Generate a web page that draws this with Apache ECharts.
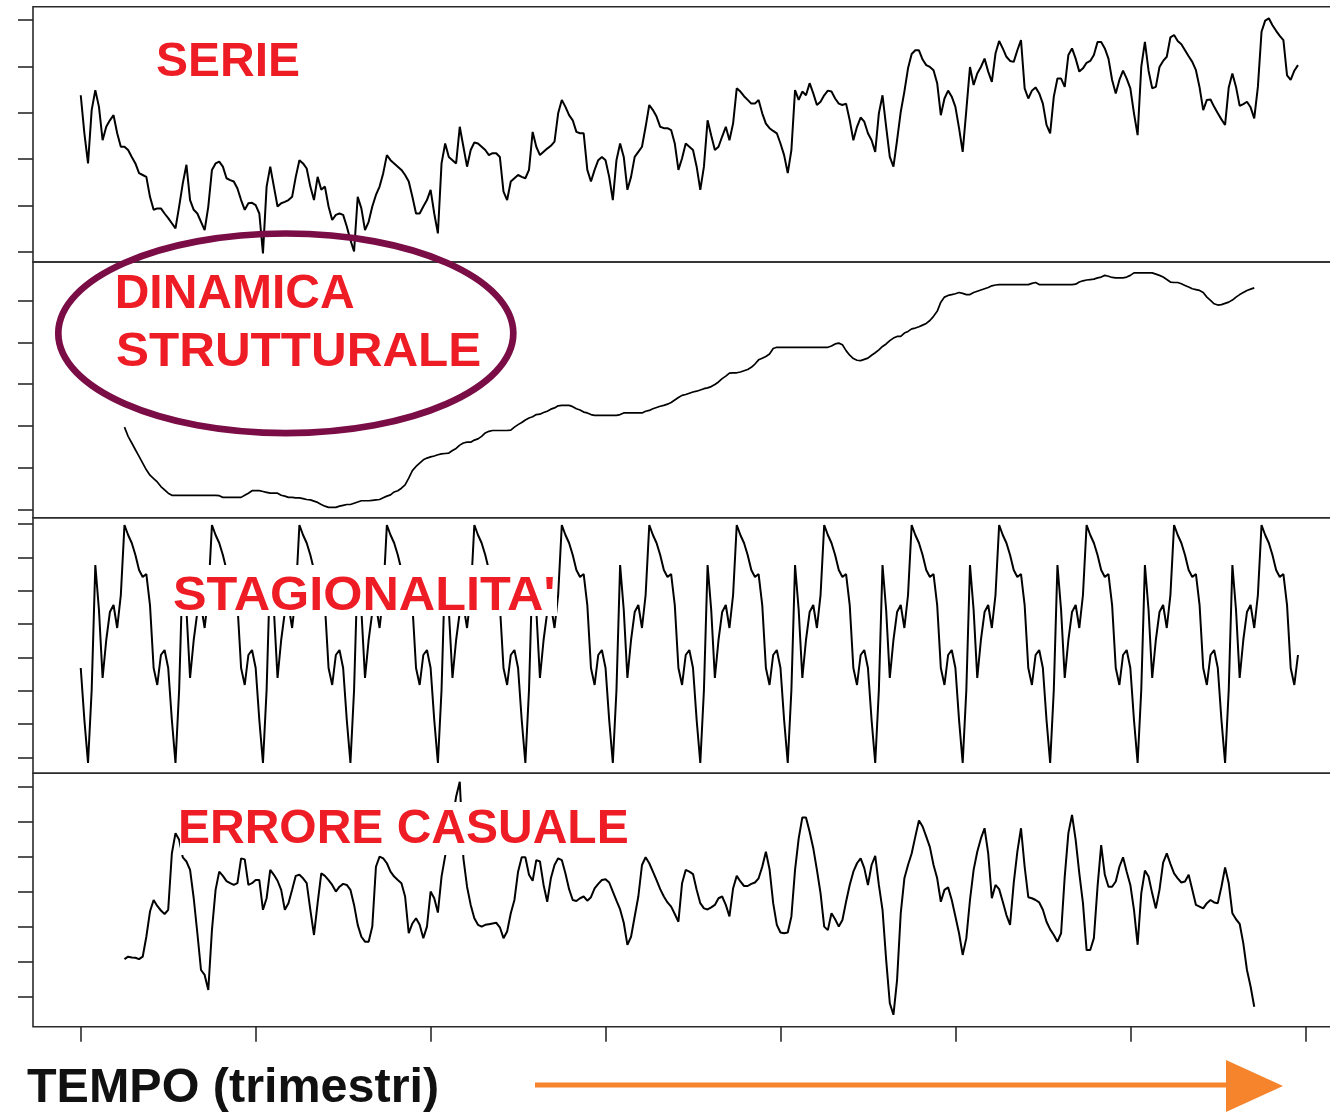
<!DOCTYPE html>
<html>
<head>
<meta charset="UTF-8">
<title>Decomposizione della serie</title>
<script src="https://cdn.jsdelivr.net/npm/echarts@6/dist/echarts.min.js"></script>
<style>
  html, body { margin: 0; background: #fff; }
  #main { width: 1330px; height: 1115px; }
</style>
</head>
<body>
<div id="main"></div>
<script>
// indice temporale 0..334, tick ogni 48 periodi
var tickTempo = [0, 48, 96, 144, 192, 240, 288, 336];

// serie osservata
var serie = [
  33.8, 25.6, 19.1, 30.6, 34.9, 31.3, 24.1, 27.0, 28.4, 29.5,
  25.6, 22.7, 22.7, 22.0, 20.5, 19.1, 17.0, 16.6, 16.2, 11.9,
  9.1, 9.4, 9.4, 8.3, 7.3, 6.2, 5.1, 9.8, 14.8, 18.8,
  11.2, 9.1, 8.3, 6.5, 4.7, 9.8, 17.7, 19.1, 19.5, 18.4,
  15.9, 15.5, 15.2, 13.7, 11.2, 9.1, 10.5, 10.6, 10.1, 8.3,
  -0.3, 14.1, 18.4, 14.1, 9.8, 10.5, 10.8, 11.2, 11.9, 16.2,
  19.8, 19.1, 18.0, 14.1, 11.2, 16.2, 13.4, 14.1, 9.8, 6.9,
  8.0, 8.3, 8.0, 5.5, 2.6, 0.1, 11.9, 9.4, 4.7, 6.5,
  9.8, 12.3, 14.1, 17.0, 20.9, 19.8, 19.1, 18.4, 17.7, 16.6,
  15.2, 11.9, 8.3, 8.3, 9.8, 11.2, 13.4, 8.3, 4.0, 19.1,
  23.4, 20.5, 19.8, 19.1, 27.0, 22.7, 18.4,
  22.0, 23.6, 23.4, 22.7, 22.0, 20.9, 21.3, 21.3, 20.5, 13.0,
  11.2, 15.2, 15.9, 16.6, 16.2, 15.9, 17.7, 25.9, 22.7, 20.9,
  21.6, 22.3, 22.9, 23.8, 29.9, 32.8, 31.3, 29.5, 28.4, 25.9,
  25.6, 25.6, 17.7, 15.2, 17.7, 19.8, 20.5, 19.8, 16.2, 11.2,
  19.8, 23.4, 20.5, 13.4, 16.2, 20.5, 21.6, 22.7, 27.0, 31.7,
  30.6, 29.2, 27.0, 26.7, 26.7, 26.3, 23.4, 17.7, 20.2, 23.4,
  22.7, 22.0, 18.4, 13.4, 18.4, 28.4, 25.1, 22.0, 22.7, 24.9,
  27.0, 24.1, 27.7, 35.3, 34.6, 33.6, 32.8, 32.0, 32.0, 32.8,
  29.9, 27.7, 26.7, 26.1, 25.6, 23.4, 20.9, 17.0, 22.0, 34.9,
  32.8, 34.6, 33.8, 36.4, 34.2, 31.7, 32.4, 33.8, 34.8, 34.6,
  33.1, 32.0, 31.7, 32.0, 28.4, 24.1, 27.0, 29.0, 28.1, 25.6,
  24.1, 21.6, 29.9, 33.8, 27.0, 20.5, 18.4, 24.1,
  30.2, 34.6, 39.6, 42.7, 43.5, 43.5, 41.5, 40.3, 39.9, 39.2,
  36.4, 29.5, 33.1, 34.8, 33.5, 31.3, 26.7, 21.6, 30.6, 39.9,
  36.0, 38.5, 39.9, 41.7, 38.9, 36.7, 42.8, 45.5, 43.9, 42.1,
  41.2, 41.0, 43.5, 45.7, 35.3, 33.1, 34.8, 35.5, 34.2, 32.0,
  27.4, 25.6, 33.5, 37.4, 37.4, 35.6, 42.5, 43.9, 41.7, 38.9,
  39.6, 40.8, 41.2, 42.5, 45.3, 45.3, 43.9, 41.7, 37.1, 34.2,
  37.1, 39.1, 37.4, 35.3, 29.9, 25.2, 39.9, 45.3, 39.1, 35.3,
  35.6, 39.9, 41.2, 42.1, 46.3, 46.8, 45.5, 44.8, 43.5, 42.2,
  41.0, 39.2, 35.5, 30.6, 32.8, 32.9, 31.3, 29.9, 28.6, 27.4,
  35.5, 38.5, 35.6, 31.5, 31.9, 32.4, 31.2, 28.8, 35.6, 47.5,
  49.9, 50.4, 48.9, 47.7, 46.6, 45.7, 38.1, 37.1, 39.1, 40.3
];

// trend (media mobile centrata): parte dall'indice 12
var inizioTrend = 12;
var trend = [
  19.7, 17.5, 15.9, 14.3, 12.7, 11.1, 9.5, 8.2, 7.4, 6.6,
  5.5, 4.7, 3.9, 3.4, 3.4, 3.4, 3.4, 3.4, 3.4, 3.4,
  3.4, 3.4, 3.4, 3.4, 3.4, 3.4, 3.3, 2.9, 2.9, 2.9,
  2.9, 2.9, 2.9, 3.4, 3.9, 4.5, 4.5, 4.5, 4.3, 4.1,
  3.9, 3.9, 3.9, 3.4, 3.2, 2.9, 2.9, 2.8, 2.8, 2.6,
  2.4, 2.3, 2.0, 1.7, 1.2, 0.8, 0.5, 0.5, 0.5, 0.8,
  1.0, 1.2, 1.2, 1.5, 1.8, 2.1, 2.1, 2.1, 2.2, 2.3,
  2.4, 2.8, 3.2, 3.5, 4.2, 4.5, 5.1, 5.9, 7.5, 9.3,
  10.3, 11.1, 11.9, 12.3, 12.6, 12.8, 13.1, 13.3, 13.4, 13.5,
  14.1, 14.6, 15.4, 15.9, 16.1, 16.1, 16.6, 16.9, 17.5, 18.3,
  18.7, 18.9, 18.9, 18.9, 18.9, 18.9, 19.0, 19.7, 20.3, 20.8,
  21.4, 21.9, 22.2, 22.7, 22.8, 23.2, 23.5, 24.0, 24.3, 24.8,
  24.9, 24.9, 24.9, 24.6, 24.1, 23.8, 23.3, 23.1, 22.7, 22.5,
  22.5, 22.5, 22.5, 22.5, 22.5, 22.5, 22.7, 23.1, 23.1, 23.1,
  23.1, 23.1, 23.1, 23.5, 23.7, 24.1, 24.4, 24.7, 24.9, 25.2,
  25.6, 26.2, 26.8, 27.3, 27.5, 27.8, 28.1, 28.3, 28.6, 28.9,
  29.1, 29.4, 29.9, 30.5, 31.3, 31.9, 32.6, 32.7, 32.7, 32.9,
  33.2, 33.5, 34.0, 34.8, 35.8, 36.2, 36.6, 37.2, 38.5, 38.8,
  38.8, 38.8, 38.8, 38.8, 38.8, 38.8, 38.8, 38.8, 38.8, 38.8,
  38.8, 38.8, 38.8, 38.8, 39.1, 39.6, 39.8, 39.4, 38.0, 36.9,
  36.1, 35.7, 35.6, 35.9, 36.2, 36.9, 37.5, 38.2, 39.0, 39.6,
  40.4, 41.0, 41.4, 41.4, 42.2, 42.6, 43.2, 43.4, 43.7, 44.1,
  44.5, 45.2, 46.2, 47.4, 49.6, 50.8, 51.2, 51.4, 51.6, 51.9,
  51.7, 51.4, 51.4, 51.9, 52.2, 52.5, 52.8, 53.1, 53.5, 53.7,
  53.8, 53.8, 53.8, 53.8, 53.8, 53.8, 53.8, 53.8, 53.8, 54.1,
  54.3, 53.8, 53.8, 53.8, 53.8, 53.8, 53.8, 53.8, 53.8, 53.8,
  53.8, 53.9, 54.4, 54.7, 54.9, 55.0, 55.1, 55.4, 55.6, 56.0,
  55.8, 55.5, 55.4, 55.4, 55.4, 55.6, 56.0, 56.6, 56.6, 56.6,
  56.6, 56.6, 56.6, 56.3, 56.0, 55.6, 55.0, 54.4, 54.3, 54.3,
  54.0, 53.6, 53.2, 52.8, 52.6, 52.4, 51.9, 50.8, 50.0, 49.2,
  48.9, 49.0, 49.3, 49.6, 50.1, 50.8, 51.4, 51.9, 52.4, 52.7, 53.0
];

// componente stagionale (periodo 24)
var stagionalita = [
  -13.2, -28.8, -41.7, -19.8, 17.7, 4.2, -16.2, -4.8, 3.6, 5.7, -1.2, 8.7, 29.7, 26.7, 24.3, 20.7, 16.2, 14.1, 15.0, 5.7, -13.2, -18.3, -9.3, -7.8,
  -13.2, -28.8, -41.7, -19.8, 17.7, 4.2, -16.2, -4.8, 3.6, 5.7, -1.2, 8.7, 29.7, 26.7, 24.3, 20.7, 16.2, 14.1, 15.0, 5.7, -13.2, -18.3, -9.3, -7.8,
  -13.2, -28.8, -41.7, -19.8, 17.7, 4.2, -16.2, -4.8, 3.6, 5.7, -1.2, 8.7, 29.7, 26.7, 24.3, 20.7, 16.2, 14.1, 15.0, 5.7, -13.2, -18.3, -9.3, -7.8,
  -13.2, -28.8, -41.7, -19.8, 17.7, 4.2, -16.2, -4.8, 3.6, 5.7, -1.2, 8.7, 29.7, 26.7, 24.3, 20.7, 16.2, 14.1, 15.0, 5.7, -13.2, -18.3, -9.3, -7.8,
  -13.2, -28.8, -41.7, -19.8, 17.7, 4.2, -16.2, -4.8, 3.6, 5.7, -1.2, 8.7, 29.7, 26.7, 24.3, 20.7, 16.2, 14.1, 15.0, 5.7, -13.2, -18.3, -9.3, -7.8,
  -13.2, -28.8, -41.7, -19.8, 17.7, 4.2, -16.2, -4.8, 3.6, 5.7, -1.2, 8.7, 29.7, 26.7, 24.3, 20.7, 16.2, 14.1, 15.0, 5.7, -13.2, -18.3, -9.3, -7.8,
  -13.2, -28.8, -41.7, -19.8, 17.7, 4.2, -16.2, -4.8, 3.6, 5.7, -1.2, 8.7, 29.7, 26.7, 24.3, 20.7, 16.2, 14.1, 15.0, 5.7, -13.2, -18.3, -9.3, -7.8,
  -13.2, -28.8, -41.7, -19.8, 17.7, 4.2, -16.2, -4.8, 3.6, 5.7, -1.2, 8.7, 29.7, 26.7, 24.3, 20.7, 16.2, 14.1, 15.0, 5.7, -13.2, -18.3, -9.3, -7.8,
  -13.2, -28.8, -41.7, -19.8, 17.7, 4.2, -16.2, -4.8, 3.6, 5.7, -1.2, 8.7, 29.7, 26.7, 24.3, 20.7, 16.2, 14.1, 15.0, 5.7, -13.2, -18.3, -9.3, -7.8,
  -13.2, -28.8, -41.7, -19.8, 17.7, 4.2, -16.2, -4.8, 3.6, 5.7, -1.2, 8.7, 29.7, 26.7, 24.3, 20.7, 16.2, 14.1, 15.0, 5.7, -13.2, -18.3, -9.3, -7.8,
  -13.2, -28.8, -41.7, -19.8, 17.7, 4.2, -16.2, -4.8, 3.6, 5.7, -1.2, 8.7, 29.7, 26.7, 24.3, 20.7, 16.2, 14.1, 15.0, 5.7, -13.2, -18.3, -9.3, -7.8,
  -13.2, -28.8, -41.7, -19.8, 17.7, 4.2, -16.2, -4.8, 3.6, 5.7, -1.2, 8.7, 29.7, 26.7, 24.3, 20.7, 16.2, 14.1, 15.0, 5.7, -13.2, -18.3, -9.3, -7.8,
  -13.2, -28.8, -41.7, -19.8, 17.7, 4.2, -16.2, -4.8, 3.6, 5.7, -1.2, 8.7, 29.7, 26.7, 24.3, 20.7, 16.2, 14.1, 15.0, 5.7, -13.2, -18.3, -9.3, -7.8,
  -13.2, -28.8, -41.7, -19.8, 17.7, 4.2, -16.2, -4.8, 3.6, 5.7, -1.2, 8.7, 29.7, 26.7, 24.3, 20.7, 16.2, 14.1, 15.0, 5.7, -13.2, -18.3, -9.3
];

// componente irregolare: parte dall'indice 12
var inizioErrore = 12;
var errore = [
  -19.2, -18.5, -18.7, -18.8, -19.2, -18.5, -12.8, -5.6, -2.3, -4.0,
  -5.3, -6.3, -5.1, 11.0, 16.8, 14.9, 9.9, 8.7, 6.3, -1.8,
  -11.8, -22.3, -23.7, -28.0, -10.9, 0.6, 5.8, 4.6, 3.1, 2.5,
  2.0, 2.5, 9.6, 9.3, 2.0, 2.5, 3.4, 3.4, -5.1, -1.8,
  6.3, 4.9, 3.2, 0.6, -5.1, -3.2, 0.6, 4.6, 4.9, 3.9,
  2.5, -5.1, -12.3, -3.2, 5.3, 4.6, 3.4, 2.0, 0.1, 1.5,
  2.3, 2.0, 0.6, -3.7, -9.4, -12.8, -14.2, -14.2, -9.9, 7.2,
  10.1, 9.6, 8.2, 5.8, 4.4, 3.4, 2.5, -1.3, -11.8, -9.0,
  -7.5, -9.4, -13.2, -9.9, 0.1, -1.8, -5.9, 4.4, 10.3, 14.9,
  20.6, 27.2, 31.5, 9.6, 1.5, -3.7, -7.5, -9.4, -9.9, -9.4,
  -9.2, -9.0, -8.8, -10.1, -13.2, -11.3, -6.1, -2.3, 5.8, 9.9,
  9.9, 4.9, 3.2, 9.1, 8.7, 2.0, -2.8, 3.9, 7.7, 9.6,
  9.1, 5.3, 0.8, -2.3, -2.6, -1.8, -1.3, -2.5, -1.5, 1.0,
  2.3, 3.4, 3.6, 2.7, 0.1, -2.5, -5.0, -8.8, -15.1, -12.8,
  -7.0, -1.3, 7.7, 9.9, 8.2, 5.8, 3.4, 0.8, -1.3, -3.0,
  -4.2, -6.3, -8.5, 2.5, 6.3, 5.8, 5.1, 0.6, -3.2, -4.7,
  -5.0, -4.4, -3.7, -1.8, -1.3, -3.7, -7.0, 1.0, 4.6, 3.0,
  1.7, 1.7, 2.3, 2.7, 3.9, 7.2, 11.5, 6.5, -3.2, -9.4,
  -11.6, -11.8, -11.6, -7.0, 6.3, 15.3, 21.3, 21.3, 17.2, 12.5,
  6.3, -0.4, -9.9, -10.9, -6.1, -7.8, -9.9, -8.0, -2.8, 2.0,
  5.8, 8.2, 9.6, 6.8, 2.0, 7.7, 10.3, 2.0, -5.1, -19.4,
  -31.8, -35.1, -25.1, -6.1, 3.9, 7.7, 11.0, 15.8, 20.4, 18.7,
  15.8, 12.8, 7.7, 3.9, -2.8, 0.6, 1.3, -2.3, -7.0, -11.8,
  -18.0, -13.2, -2.3, 6.3, 11.5, 15.3, 18.2, 11.0, -1.8, 2.0,
  0.8, -2.8, -6.6, -9.4, 2.5, 11.5, 18.2, 7.2, -1.5, -1.8,
  -2.3, -3.0, -5.1, -8.5, -10.7, -12.3, -14.2, -11.8, 4.4, 16.8,
  22.0, 14.9, 5.3, -3.2, -16.6, -16.6, -13.2, 1.5, 13.4, 4.9,
  1.5, 1.5, 3.0, 7.2, 9.9, 5.8, 2.0, -5.1, -15.1, -0.4,
  6.1, 4.4, -0.4, -4.7, 0.6, 8.4, 11.0, 8.0, 5.3, 3.9,
  2.7, 3.0, 4.9, 0.6, -3.7, -4.2, -4.7, -3.2, -2.3, -3.0,
  -3.2, 1.5, 7.0, 2.5, -6.1, -7.8, -9.1, -14.7, -22.3, -27.0, -32.8
];

var tickSerie = [0, 10, 20, 30, 40, 50];
var tickTrend = [0, 10, 20, 30, 40, 50];
var tickStag = [-40, -30, -20, -10, 0, 10, 20, 30];
var tickErrore = [-30, -20, -10, 0, 10, 20, 30];

function coppie(valori, inizio) {
  return valori.map(function (v, j) { return [inizio + j, v]; });
}

var pannelli = [
  { top: 6.7,   height: 255.3, min: -2.16, max: 52.9, ticks: tickSerie,  dati: coppie(serie, 0) },
  { top: 262,   height: 255.7, min: -1.96, max: 59.2, ticks: tickTrend,  dati: coppie(trend, inizioTrend), w: 1.7 },
  { top: 517.7, height: 255.6, min: -44.8, max: 31.9, ticks: tickStag,   dati: coppie(stagionalita, 0) },
  { top: 773.3, height: 253.4, min: -38.5, max: 33.9, ticks: tickErrore, dati: coppie(errore, inizioErrore) }
];

var grid = [], xAxis = [], yAxis = [], series = [];
pannelli.forEach(function (p, k) {
  var ultimo = k === pannelli.length - 1;
  grid.push({
    left: 33, width: 1316, top: p.top, height: p.height,
    outerBoundsMode: 'none',
    show: true, borderColor: '#2a2a2a', borderWidth: 1.6, backgroundColor: 'transparent'
  });
  xAxis.push({
    type: 'value', gridIndex: k, min: -13.1, max: 348,
    position: 'bottom',
    show: ultimo,
    axisLine: { show: false, onZero: false },
    axisTick: { show: ultimo, customValues: tickTempo, length: 15, lineStyle: { color: '#2a2a2a', width: 1.6 } },
    axisLabel: { show: false },
    splitLine: { show: false }
  });
  yAxis.push({
    type: 'value', gridIndex: k, min: p.min, max: p.max,
    position: 'left',
    axisLine: { show: false, onZero: false },
    axisTick: { show: true, customValues: p.ticks, length: 15, lineStyle: { color: '#2a2a2a', width: 1.6 } },
    axisLabel: { show: false },
    splitLine: { show: false }
  });
  series.push({
    type: 'line', xAxisIndex: k, yAxisIndex: k,
    data: p.dati, showSymbol: false, symbol: 'none',
    lineStyle: { color: '#000', width: p.w || 2 },
    silent: true
  });
});

var fontRosso = 'bold 48px "Liberation Sans", Arial, sans-serif';
var rosso = '#ee1c25';

var graphic = [
  // fondi bianchi delle etichette che coprono la linea
  { type: 'rect', z: 100, shape: { x: 173, y: 565, width: 384, height: 51 }, style: { fill: '#fff' } },
  { type: 'rect', z: 100, shape: { x: 180, y: 802, width: 454, height: 53 }, style: { fill: '#fff' } },
  { type: 'text', z: 101, style: { x: 156, y: 63, text: 'SERIE', font: fontRosso, fill: rosso, verticalAlign: 'middle' } },
  { type: 'text', z: 101, style: { x: 114.7, y: 295, text: 'DINAMICA', font: fontRosso, fill: rosso, verticalAlign: 'middle' } },
  { type: 'text', z: 101, x: 116, scaleX: 1.03, style: { x: 0, y: 352.5, text: 'STRUTTURALE', font: fontRosso, fill: rosso, verticalAlign: 'middle' } },
  { type: 'text', z: 101, x: 173, scaleX: 1.05, style: { x: 0, y: 596.5, text: "STAGIONALITA'", font: fontRosso, fill: rosso, verticalAlign: 'middle' } },
  { type: 'text', z: 101, style: { x: 178, y: 830, text: 'ERRORE CASUALE', font: fontRosso, fill: rosso, verticalAlign: 'middle' } },
  { type: 'ellipse', z: 102, shape: { cx: 285.8, cy: 333.3, rx: 227.5, ry: 99.8 }, style: { fill: 'none', stroke: '#7a0c46', lineWidth: 6.7 } },
  { type: 'text', z: 101, x: 27, scaleX: 1.01, style: { x: 0, y: 1089, text: 'TEMPO (trimestri)', font: 'bold 48px "Liberation Sans", Arial, sans-serif', fill: '#111', verticalAlign: 'middle' } },
  // freccia arancione
  { type: 'line', z: 101, shape: { x1: 535, y1: 1085, x2: 1232, y2: 1085 }, style: { stroke: '#f5842c', lineWidth: 5 } },
  { type: 'polygon', z: 101, shape: { points: [[1226, 1060], [1283, 1086], [1226, 1112]] }, style: { fill: '#f5842c' } }
];

var chart = echarts.init(document.getElementById('main'));
chart.setOption({
  animation: false,
  backgroundColor: '#fff',
  grid: grid,
  xAxis: xAxis,
  yAxis: yAxis,
  series: series,
  graphic: graphic
});
</script>
</body>
</html>
